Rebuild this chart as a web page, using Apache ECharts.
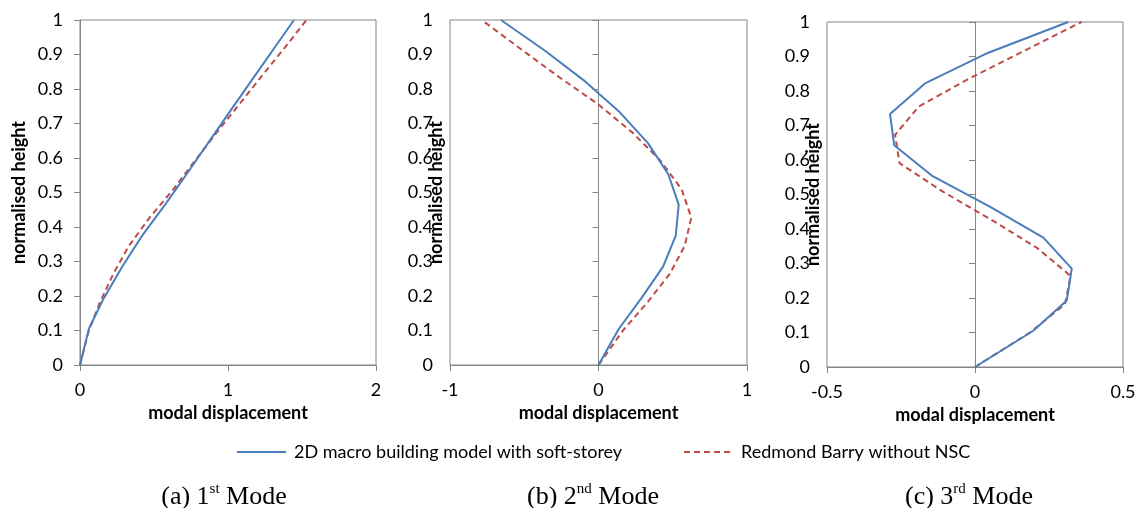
<!DOCTYPE html>
<html>
<head>
<meta charset="utf-8">
<script src="https://cdn.jsdelivr.net/npm/echarts@6/dist/echarts.min.js"></script>
<style>
html,body{margin:0;padding:0;background:#fff;}
#chart{width:1140px;height:508px;}
</style>
</head>
<body>
<div id="chart"></div>
<script>
// Normalised storey heights
const heightsModel = [0, 0.105, 0.193, 0.285, 0.375, 0.465, 0.553, 0.643, 0.733, 0.822, 0.911, 1.0];
const heightsRB = [0, 0.1, 0.182, 0.264, 0.345, 0.427, 0.509, 0.591, 0.673, 0.755, 0.836, 0.918, 1.0];

// Modal displacements
const mode1Model = [0, 0.06, 0.16, 0.285, 0.42, 0.575, 0.72, 0.865, 1.01, 1.155, 1.30, 1.446];
const mode1RB = [0, 0.06, 0.135, 0.225, 0.33, 0.47, 0.63, 0.775, 0.922, 1.075, 1.225, 1.38, 1.53];
const mode2Model = [0, 0.137, 0.288, 0.435, 0.52, 0.54, 0.47, 0.333, 0.142, -0.09, -0.36, -0.657];
const mode2RB = [0, 0.165, 0.33, 0.48, 0.58, 0.625, 0.56, 0.42, 0.23, 0.0, -0.27, -0.53, -0.786];
const mode3Model = [0, 0.197, 0.31, 0.327, 0.231, 0.05, -0.143, -0.273, -0.287, -0.169, 0.045, 0.315];
const mode3RB = [0, 0.186, 0.304, 0.323, 0.21, 0.055, -0.11, -0.255, -0.27, -0.19, -0.02, 0.17, 0.36];

const seriesNames = ['2D macro building model with soft-storey', 'Redmond Barry without NSC'];
const xMins = [0, -1, -0.5];
const xMaxs = [2, 1, 0.5];
const xIntervals = [1, 1, 0.5];
const captionsMain = ['(a) 1', '(b) 2', '(c) 3'];
const captionsSup = ['st', 'nd', 'rd'];
const xAxisName = 'modal displacement';
const yAxisName = 'normalised height';

const modelSets = [mode1Model, mode2Model, mode3Model];
const rbSets = [mode1RB, mode2RB, mode3RB];

const grids = [
  {left: 80, top: 20, width: 296, height: 345},
  {left: 450, top: 20, width: 297, height: 345},
  {left: 827, top: 22, width: 296, height: 345}
];
const yNameGaps = [52, 5, 5];
const captionX = [224, 593, 969];

const gray = '#868686';
const sans = 'Lato';
const serif = 'Liberation Serif';
const BLUE = '#4a7ebb';
const RED = '#be4b48';

function pairs(xs, ys) { return ys.map((y, i) => [xs[i], y]); }

const legendBase = {
  top: 443, padding: 0, itemHeight: 14,
  itemStyle: {opacity: 0}
};

const option = {
  animation: false,
  backgroundColor: '#ffffff',
  grid: grids.map(g => Object.assign({show: true, borderColor: gray, borderWidth: 1, backgroundColor: 'transparent'}, g)),
  xAxis: grids.map((g, i) => ({
    type: 'value', gridIndex: i, min: xMins[i], max: xMaxs[i], interval: xIntervals[i],
    name: xAxisName, nameLocation: 'middle', nameGap: 34,
    nameTextStyle: {fontFamily: sans, fontWeight: 'bold', fontSize: 18, color: '#000'},
    axisLine: {show: true, onZero: true, lineStyle: {color: gray, width: 1}},
    axisTick: {show: true, length: 6, lineStyle: {color: gray}},
    axisLabel: {margin: 16, fontFamily: sans, fontSize: 18, color: '#000'},
    splitLine: {show: false}
  })),
  yAxis: grids.map((g, i) => ({
    type: 'value', gridIndex: i, min: 0, max: 1, interval: 0.1,
    name: yAxisName, nameLocation: 'middle', nameGap: yNameGaps[i], nameMoveOverlap: false,
    nameTextStyle: {fontFamily: sans, fontWeight: 'bold', fontSize: 18, color: '#000'},
    axisLine: {show: true, onZero: true, lineStyle: {color: gray, width: 1}},
    axisTick: {show: true, length: 6, lineStyle: {color: gray}},
    axisLabel: {margin: 17, fontFamily: sans, fontSize: 18, color: '#000'},
    splitLine: {show: false}
  })),
  legend: [
    Object.assign({}, legendBase, {data: [seriesNames[0]], left: 236, itemWidth: 49,
     textStyle: {fontFamily: sans, fontSize: 18, color: '#000', padding: [0, 0, 0, 3]}}),
    Object.assign({}, legendBase, {data: [seriesNames[1]], left: 683, itemWidth: 46,
     textStyle: {fontFamily: sans, fontSize: 18, color: '#000', padding: [0, 0, 0, 6]}})
  ],
  series: [],
  graphic: captionX.map((x, i) => ({
    type: 'text', x: x, y: 497,
    style: {
      text: '{m|' + captionsMain[i] + '}{s|' + captionsSup[i] + '}{m| Mode}',
      align: 'center', verticalAlign: 'middle',
      rich: {
        m: {fontFamily: serif, fontSize: 26, lineHeight: 30, fill: '#000'},
        s: {fontFamily: serif, fontSize: 15, lineHeight: 20, verticalAlign: 'top', fill: '#000'}
      }
    }
  }))
};

for (let i = 0; i < 3; i++) {
  option.series.push({
    name: seriesNames[0], type: 'line', xAxisIndex: i, yAxisIndex: i,
    data: pairs(modelSets[i], heightsModel), symbol: 'none', showSymbol: false,
    lineStyle: {color: BLUE, width: 2}, itemStyle: {color: BLUE}, z: 3
  });
  option.series.push({
    name: seriesNames[1], type: 'line', xAxisIndex: i, yAxisIndex: i,
    data: pairs(rbSets[i], heightsRB), symbol: 'none', showSymbol: false,
    lineStyle: {color: RED, width: 2, type: [6, 4]}, itemStyle: {color: RED}, z: 2
  });
}

const chart = echarts.init(document.getElementById('chart'), null, {renderer: 'canvas'});
chart.setOption(option);
</script>
</body>
</html>
